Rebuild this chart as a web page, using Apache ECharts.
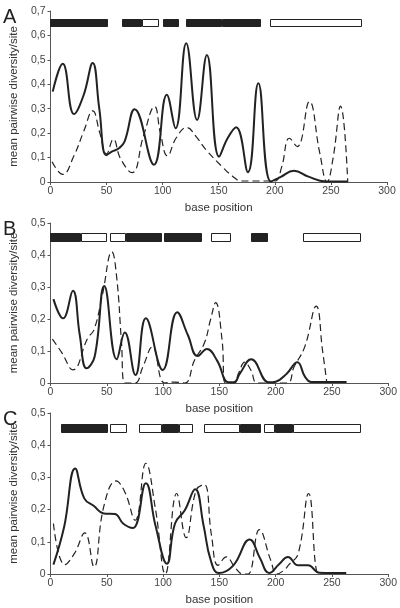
<!DOCTYPE html>
<html>
<head>
<meta charset="utf-8">
<script src="https://cdn.jsdelivr.net/npm/echarts@6/dist/echarts.min.js"></script>
<style>
html,body{margin:0;padding:0;background:#fff;}
#chart{width:400px;height:608px;}
</style>
</head>
<body>
<div id="chart"></div>
<script>
// ---------- DATA ----------
var panelLetters = ['A', 'B', 'C'];
var xTicks = [0, 50, 100, 150, 200, 250, 300];
var yMaxA = 0.7, yMaxB = 0.5, yMaxC = 0.5;

// Panel A
var solidA = [[2,0.37],[10.9,0.484],[21,0.278],[29.5,0.355],[37.6,0.487],[43.5,0.3],[49.7,0.11],[55,0.125],[61,0.138],[66,0.165],[75,0.298],[92.2,0.071],[103.7,0.357],[111.5,0.22],[121,0.568],[130.7,0.254],[139.4,0.52],[150.3,0.104],[158,0.18],[165.5,0.224],[176,0.04],[185.3,0.404],[196.5,0.002],[205,0.02],[217,0.046],[230,0.022],[245,0.002],[265,0.002]];
var dashA = [[1.4,0.083],[10.9,0.031],[20.7,0.105],[29.6,0.207],[37.6,0.291],[44,0.2],[50,0.115],[56,0.175],[62.5,0.095],[72.7,0.038],[83,0.19],[92.8,0.309],[98,0.2],[104.3,0.107],[112,0.18],[121.5,0.223],[130,0.185],[138.8,0.131],[153,0.063],[162,0.025],[170.4,0.004],[185,0.004],[200,0.004],[206,0.06],[213,0.179],[220,0.145],[230.8,0.329],[240,0.12],[246.5,0.0],[252,0.1],[258.6,0.311],[265,0.0]];
var barsA = [[0,51,1],[64,82,1],[82,97,0],[100,115,1],[121,153,1],[153,188,1],[196,278,0]];

// Panel B
var solidB = [[2.6,0.262],[11.2,0.202],[19.9,0.288],[26,0.15],[32,0.046],[39.2,0.082],[47.8,0.303],[58.8,0.074],[66,0.158],[75.5,0.025],[84.7,0.202],[99.7,0.041],[112.6,0.221],[122,0.15],[130.8,0.084],[138.9,0.106],[148,0.07],[158,0.002],[163,0.002],[168.3,0.03],[178.3,0.074],[194,0.002],[200,0.004],[210,0.03],[219.3,0.065],[226,0.02],[231.6,0.003],[263,0.003]];
var dashB = [[1.7,0.137],[10,0.095],[19.9,0.041],[33,0.14],[38.6,0.166],[45.8,0.27],[54.5,0.41],[58.8,0.33],[63,0.13],[66,0.0],[75,0.0],[82,0.05],[90.5,0.113],[101.4,0.0],[110,0.003],[119.3,0.0],[128,0.072],[136.6,0.124],[142.3,0.2],[146.7,0.251],[152.4,0.134],[155.3,0.0],[163,0.0],[167,0.03],[172.6,0.065],[178,0.04],[184,0.0],[210,0.0],[216.3,0.05],[225.8,0.113],[236,0.24],[241.7,0.1],[245.5,0.0]];
var barsB = [[0,27,1],[27,50,0],[53,67,0],[67,99,1],[101,135,1],[143,160,0],[178,193,1],[224,276,0]];

// Panel C
var solidC = [[2.6,0.029],[12.1,0.146],[21.9,0.328],[30,0.235],[38.6,0.211],[47.3,0.188],[57.3,0.186],[64.5,0.157],[73.2,0.143],[84.7,0.282],[93.3,0.15],[103.4,0.032],[110.6,0.157],[119.3,0.198],[128.5,0.263],[136,0.15],[142.3,0.043],[149.5,0.003],[162.5,0.027],[176.9,0.107],[186,0.05],[194.2,0.003],[203,0.03],[210.9,0.053],[220,0.027],[228.8,0.027],[238.8,0.004],[262.7,0.003]];
var dashC = [[2.6,0.157],[12.7,0.029],[21.3,0.064],[30.5,0.128],[38.6,0.022],[47.3,0.209],[58.2,0.289],[66,0.255],[75.2,0.167],[84.7,0.344],[93.3,0.2],[102,0.0],[112.1,0.25],[120.5,0.113],[129.4,0.26],[136.5,0.278],[143,0.12],[148.9,0.027],[156.2,0.053],[164,0.02],[171,0.0],[175.5,0.0],[185.6,0.138],[195.6,0.043],[201,0.0],[206.8,0.01],[212,0.03],[220,0.063],[229.3,0.25],[238,0.0],[242,0.0]];
var barsC = [[9,51,1],[53,68,0],[79,99,0],[99,114,1],[114,127,0],[136,168,0],[168,187,1],[190,199,0],[199,215,1],[215,276,0]];

// ---------- CHART ----------
var FONT = 'Liberation Sans, Arial, sans-serif';
var INK = '#222';
var AXC = '#555';

var grids = [
  {left: 39, top: 11, width: 348, height: 171},
  {left: 42, top: 223, width: 347, height: 160},
  {left: 42, top: 413, width: 347, height: 161}
];
var yMaxes = [yMaxA, yMaxB, yMaxC];
var barRanges = [[0.636, 0.667], [0.442, 0.468], [0.439, 0.465]];
var solids = [solidA, solidB, solidC];
var dashes = [dashA, dashB, dashC];
var bars = [barsA, barsB, barsC];

function fmtY(v) { return v === 0 ? '0' : v.toFixed(1).replace('.', ','); }

var xAxes = [], yAxes = [], series = [], graphics = [];
grids.forEach(function (g, i) {
  xAxes.push({
    gridIndex: i, type: 'value', min: xTicks[0], max: xTicks[xTicks.length - 1], interval: 50,
    name: 'base position', nameLocation: 'middle', nameGap: 20,
    nameTextStyle: {fontFamily: FONT, fontSize: 11.5, color: '#333'},
    axisLine: {show: true, onZero: false, lineStyle: {color: AXC, width: 1}},
    axisTick: {show: true, length: 3, lineStyle: {color: AXC}},
    axisLabel: {fontFamily: FONT, fontSize: 10.5, color: '#444', margin: 4},
    splitLine: {show: false}
  });
  yAxes.push({
    gridIndex: i, type: 'value', min: 0, max: yMaxes[i], interval: 0.1,
    name: 'mean pairwise diversity/site', nameLocation: 'middle', nameGap: 22,
    nameTextStyle: {fontFamily: FONT, fontSize: 11.5, color: '#333'},
    axisLine: {show: true, lineStyle: {color: AXC, width: 1}},
    axisTick: {show: true, length: 3, lineStyle: {color: AXC}},
    axisLabel: {fontFamily: FONT, fontSize: 10.5, color: '#444', margin: 5, formatter: fmtY},
    splitLine: {show: false}
  });
  var lo = barRanges[i][0], hi = barRanges[i][1];
  series.push({
    type: 'custom', xAxisIndex: i, yAxisIndex: i, clip: false, silent: true,
    data: bars[i].map(function (b) { return [b[0], b[1], b[2], lo, hi]; }),
    encode: {x: [0, 1], y: [3, 4]},
    renderItem: function (params, api) {
      var a = api.coord([api.value(0), api.value(3)]);
      var b = api.coord([api.value(1), api.value(4)]);
      var x0 = Math.round(a[0]) + 0.5, x1 = Math.round(b[0]) - 0.5;
      var y0 = Math.round(b[1]) + 0.5, y1 = Math.round(a[1]) - 0.5;
      return {
        type: 'rect',
        shape: {x: x0, y: y0, width: x1 - x0, height: y1 - y0},
        style: {fill: api.value(2) ? INK : '#fff', stroke: INK, lineWidth: 1}
      };
    }
  });
  series.push({
    type: 'line', xAxisIndex: i, yAxisIndex: i, data: dashes[i],
    smooth: 0.45, showSymbol: false, symbol: 'none', silent: true,
    lineStyle: {color: INK, width: 1.2, type: [7, 4]}, z: 3
  });
  series.push({
    type: 'line', xAxisIndex: i, yAxisIndex: i, data: solids[i],
    smooth: 0.45, showSymbol: false, symbol: 'none', silent: true,
    lineStyle: {color: INK, width: 2}, z: 4
  });
  graphics.push({
    type: 'text', left: 3, top: g.top - 4,
    style: {text: panelLetters[i], font: '20px ' + FONT, fill: '#222'}
  });
});

var chart = echarts.init(document.getElementById('chart'), null, {renderer: 'canvas'});
chart.setOption({
  animation: false,
  backgroundColor: '#fff',
  grid: grids,
  xAxis: xAxes,
  yAxis: yAxes,
  series: series,
  graphic: graphics
});
</script>
</body>
</html>
